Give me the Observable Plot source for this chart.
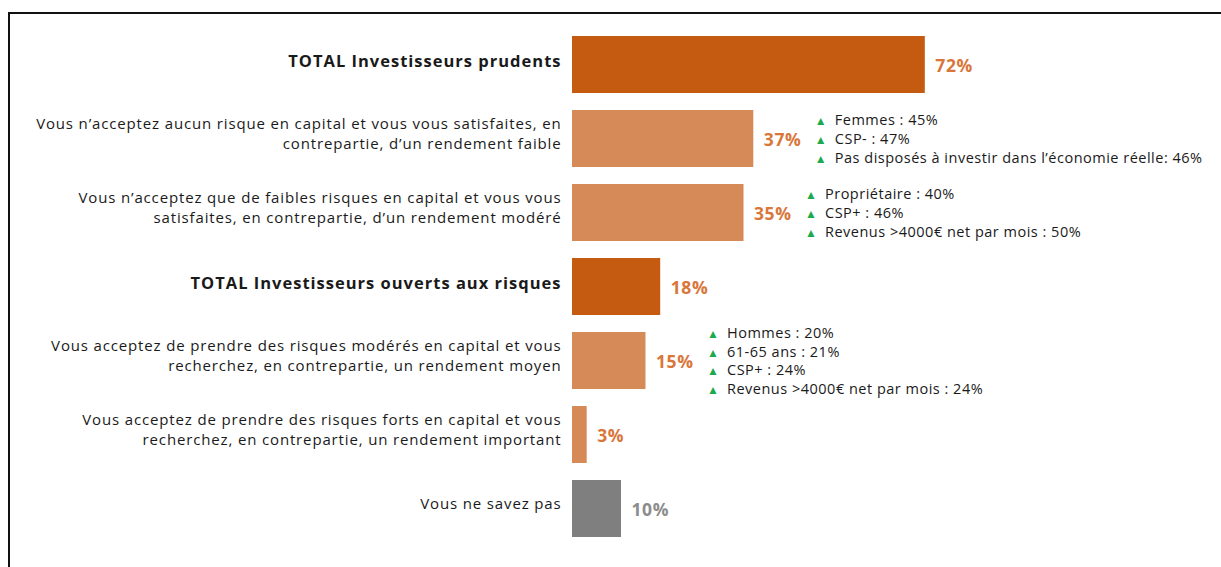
<!DOCTYPE html>
<html>
<head>
<meta charset="utf-8">
<script src="https://cdn.jsdelivr.net/npm/d3@7"></script>
<script src="https://cdn.jsdelivr.net/npm/@observablehq/plot@0.6"></script>
<style>
  html, body { margin: 0; padding: 0; background: #fff; }
  #wrap { position: relative; width: 1221px; height: 567px; overflow: hidden; }
  #frame { position: absolute; left: 8px; top: 12px; right: -4px; bottom: -4px; border-top: 2px solid #111; border-left: 2px solid #111; }
  #chart { position: absolute; left: 0; top: 0; }
</style>
</head>
<body>
<div id="wrap"><div id="frame"></div><div id="chart"></div></div>
<script>
const categories = [
  "TOTAL Investisseurs prudents",
  "Vous n’acceptez aucun risque en capital et vous vous satisfaites, en\ncontrepartie, d’un rendement faible",
  "Vous n’acceptez que de faibles risques en capital et vous vous\nsatisfaites, en contrepartie, d’un rendement modéré",
  "TOTAL Investisseurs ouverts aux risques",
  "Vous acceptez de prendre des risques modérés en capital et vous\nrecherchez, en contrepartie, un rendement moyen",
  "Vous acceptez de prendre des risques forts en capital et vous\nrecherchez, en contrepartie, un rendement important",
  "Vous ne savez pas"
];
const values = [72, 37, 35, 18, 15, 3, 10];
const kinds = ["total", "detail", "detail", "total", "detail", "detail", "nsp"];

const notesCategory = [1, 1, 1, 2, 2, 2, 4, 4, 4, 4];
const notesText = [
  "Femmes : 45%",
  "CSP- : 47%",
  "Pas disposés à investir dans l’économie réelle: 46%",
  "Propriétaire : 40%",
  "CSP+ : 46%",
  "Revenus >4000€ net par mois : 50%",
  "Hommes : 20%",
  "61-65 ans : 21%",
  "CSP+ : 24%",
  "Revenus >4000€ net par mois : 24%"
];

const rows = categories.map((c, i) => ({ cat: c, value: values[i], kind: kinds[i] }));
const groups = Array.from(new Set(notesCategory)).map(ci => {
  const lines = notesText.filter((t, i) => notesCategory[i] === ci);
  return { cat: categories[ci], value: values[ci], text: lines.join("\n"), marks: lines.map(() => "▲").join("\n") };
});

const barColor = { total: "#c55a11", detail: "#d68a58", nsp: "#7f7f7f" };
const valColor = { total: "#d9763a", detail: "#d9763a", nsp: "#8c8c8c" };
const FONT = "'Open Sans', sans-serif";
const spaced = ls => (index, scales, vals, dims, ctx, next) => {
  const g = next(index, scales, vals, dims, ctx);
  g.setAttribute("letter-spacing", ls);
  g.style.letterSpacing = ls;
  return g;
};

const chart = Plot.plot({
  width: 1221,
  height: 567,
  marginLeft: 572,
  marginRight: 159,
  marginTop: 16,
  marginBottom: 11,
  style: { fontFamily: FONT, background: "transparent" },
  x: { domain: [0, 100], axis: null },
  y: { domain: categories, padding: 0.23, axis: null },
  marks: [
    Plot.barX(rows, { x: "value", y: "cat", fill: d => barColor[d.kind] }),
    Plot.text(rows.filter(d => d.kind === "total"), {
      x: 0, y: "cat", text: "cat", textAnchor: "end", dx: -11, dy: -3,
      fontSize: 16.5, fontWeight: "bold", fill: "#1a1a1a", render: spaced("1px")
    }),
    Plot.text(rows.filter(d => d.kind !== "total"), {
      x: 0, y: "cat", text: "cat", textAnchor: "end", dx: -11, dy: -6,
      fontSize: 15, lineHeight: 1.34, fill: "#1a1a1a", render: spaced("0.85px")
    }),
    Plot.text(rows, {
      x: "value", y: "cat", text: d => d.value + "%", textAnchor: "start", dx: 10, dy: 1,
      fontSize: 17.5, fontWeight: "bold", fill: d => valColor[d.kind], render: spaced("0.6px")
    }),
    Plot.text(groups, {
      x: "value", y: "cat", text: "marks", textAnchor: "middle", dx: 67, dy: -1,
      fontSize: 12, lineHeight: 1.56, fill: "#1daa4f"
    }),
    Plot.text(groups, {
      x: "value", y: "cat", text: "text", textAnchor: "start", dx: 81, dy: -1,
      fontSize: 14.5, lineHeight: 1.29, fill: "#1a1a1a", render: spaced("0.5px")
    })
  ]
});
document.getElementById("chart").appendChild(chart);
</script>
</body>
</html>
